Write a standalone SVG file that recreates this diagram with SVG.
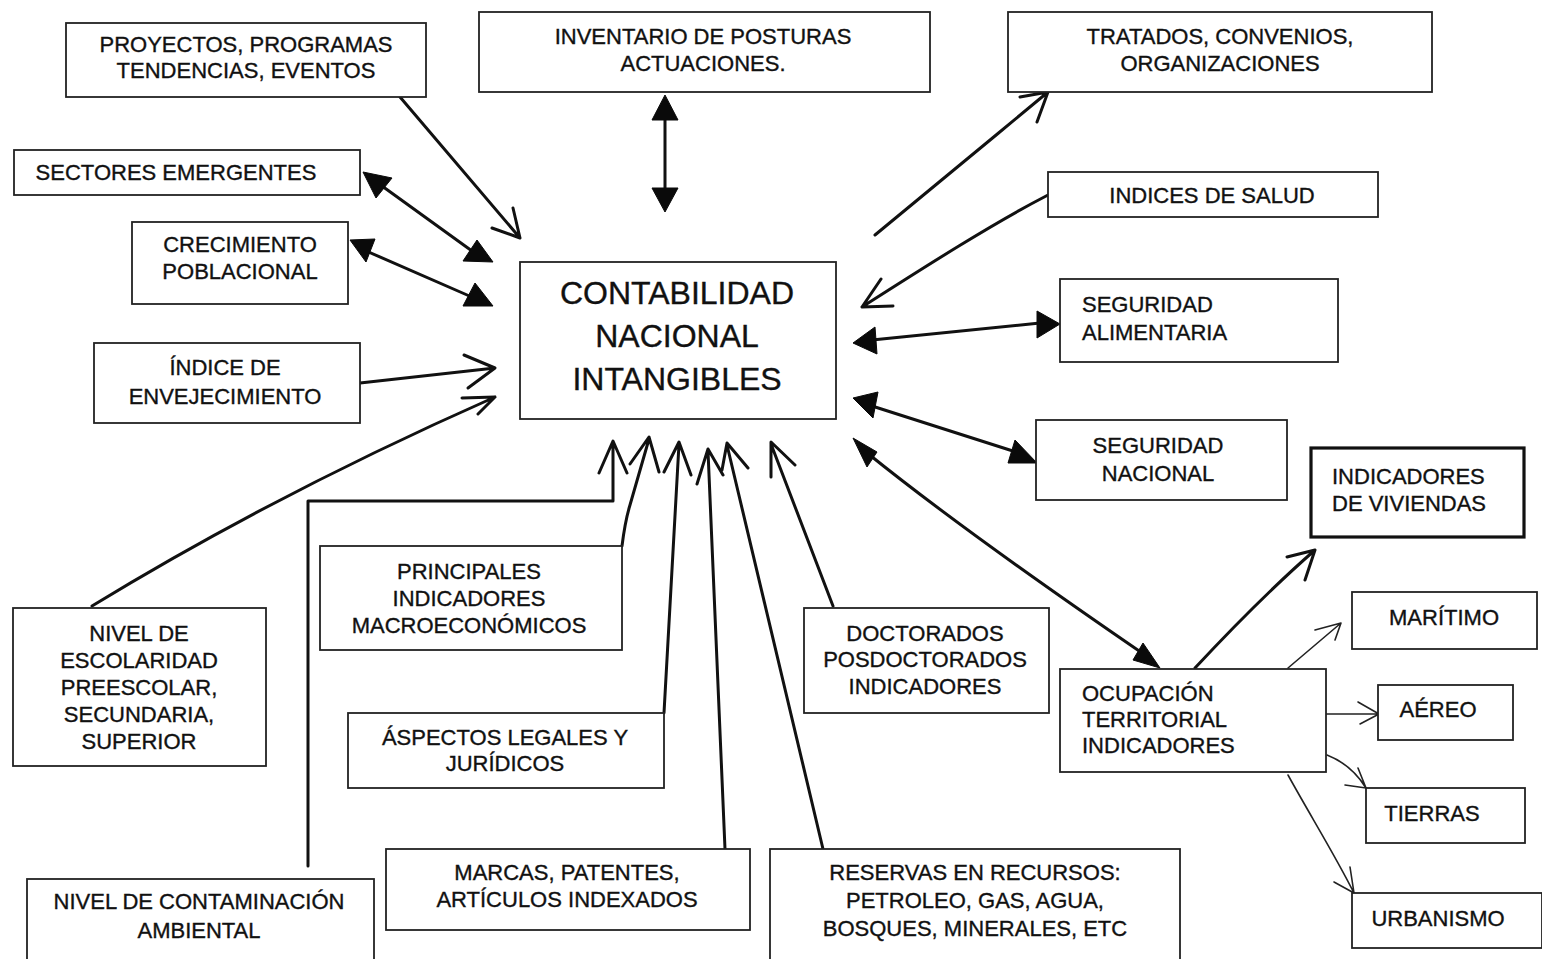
<svg xmlns="http://www.w3.org/2000/svg" width="1542" height="959" viewBox="0 0 1542 959">
<style>
.box{fill:#fff;stroke:#222;stroke-width:1.8}
.thick{stroke-width:3.2;stroke:#111}
.t{font-family:"Liberation Sans",Arial,sans-serif;font-size:22px;fill:#111;stroke:#111;stroke-width:0.35}
.c{text-anchor:middle}
.big{font-size:32px}
.ln{fill:none;stroke:#111;stroke-width:3;stroke-linecap:round;stroke-linejoin:round}
.thin{fill:none;stroke:#222;stroke-width:1.6;stroke-linecap:round;stroke-linejoin:round}
.tri{fill:#0a0a0a;stroke:#0a0a0a;stroke-width:1;stroke-linejoin:round}
</style>
<rect width="1542" height="959" fill="#fff"/>

<g id="connectors">
  <path class="ln" d="M400,97 L520,238 M492,228 L520,238 L513,208"/>
  <path class="ln" d="M382,186 L472,251"/>
  <path class="tri" d="M363,172 L392,178 L376,198 Z"/>
  <path class="tri" d="M493,262 L477,240 L463,261 Z"/>
  <path class="ln" d="M364,250 L474,298"/>
  <path class="tri" d="M350,240 L375,239 L366,262 Z"/>
  <path class="tri" d="M493,306 L475,283 L463,306 Z"/>
  <path class="ln" d="M360,383 L495,368 M464,355 L495,368 L468,388"/>
  <path class="ln" d="M92,606 C200,540 330,470 495,397 M462,398 L495,397 L478,414"/>
  <path class="ln" d="M665,115 L665,192"/>
  <path class="tri" d="M665,95 L652,120 L678,120 Z"/>
  <path class="tri" d="M665,212 L652,188 L678,188 Z"/>
  <path class="ln" d="M875,235 C930,190 990,140 1048,92 M1020,97 L1048,92 L1037,122"/>
  <path class="ln" d="M1048,195 C990,225 920,270 862,307 M881,279 L862,307 L893,306"/>
  <path class="ln" d="M872,340 L1040,323"/>
  <path class="tri" d="M853,343 L875,327 L877,354 Z"/>
  <path class="tri" d="M1060,324 L1037,311 L1037,338 Z"/>
  <path class="ln" d="M872,406 L1016,452"/>
  <path class="tri" d="M853,398 L878,392 L873,418 Z"/>
  <path class="tri" d="M1037,463 L1015,440 L1008,463 Z"/>
  <path class="ln" d="M866,452 C950,520 1050,590 1145,655"/>
  <path class="tri" d="M853,438 L877,452 L867,467 Z"/>
  <path class="tri" d="M1160,668 L1143,643 L1133,660 Z"/>
  <path class="ln" d="M1195,668 C1235,625 1275,585 1315,550 M1287,557 L1315,550 L1305,580"/>
  <path class="thin" d="M1288,668 L1341,623 M1315,630 L1341,623 L1335,640"/>
  <path class="thin" d="M1326,714 L1379,714 M1358,702 L1379,714 L1360,724"/>
  <path class="thin" d="M1327,755 C1345,762 1358,775 1366,788 M1345,785 L1366,788 L1358,768"/>
  <path class="thin" d="M1288,775 C1310,815 1335,855 1354,893 M1334,882 L1354,893 L1350,867"/>
  <path class="ln" d="M308,866 L308,501 L613,501 L613,443 M599,473 L613,441 L627,473"/>
  <path class="ln" d="M622,546 C624,530 626,518 630,505 L649,439 M630,464 L649,437 L659,472"/>
  <path class="ln" d="M664,713 L679,444 M664,472 L679,442 L691,475"/>
  <path class="ln" d="M725,849 L708,451 M697,484 L708,449 L723,475"/>
  <path class="ln" d="M823,849 L727,445 M722,470 L727,443 L748,468"/>
  <path class="ln" d="M833,606 L771,444 M771,477 L771,442 L795,465"/>
</g>

<g id="proyectos"><rect class="box" x="66" y="23" width="360" height="74"/>
<text class="t c" x="246" y="52">PROYECTOS, PROGRAMAS</text><text class="t c" x="246" y="78">TENDENCIAS, EVENTOS</text></g>

<g id="inventario"><rect class="box" x="479" y="12" width="451" height="80"/>
<text class="t c" x="703" y="44">INVENTARIO DE POSTURAS</text><text class="t c" x="703" y="71">ACTUACIONES.</text></g>

<g id="tratados"><rect class="box" x="1008" y="12" width="424" height="80"/>
<text class="t c" x="1220" y="44">TRATADOS, CONVENIOS,</text><text class="t c" x="1220" y="71">ORGANIZACIONES</text></g>

<g id="sectores"><rect class="box" x="14" y="150" width="346" height="45"/>
<text class="t c" x="176" y="180">SECTORES EMERGENTES</text></g>

<g id="crecimiento"><rect class="box" x="132" y="222" width="216" height="82"/>
<text class="t c" x="240" y="252">CRECIMIENTO</text><text class="t c" x="240" y="279">POBLACIONAL</text></g>

<g id="envejecimiento"><rect class="box" x="94" y="343" width="266" height="80"/>
<text class="t c" x="225" y="375">ÍNDICE DE</text><text class="t c" x="225" y="404">ENVEJECIMIENTO</text></g>

<g id="contabilidad"><rect class="box" x="520" y="262" width="316" height="157"/>
<text class="t c big" x="677" y="304">CONTABILIDAD</text><text class="t c big" x="677" y="347">NACIONAL</text><text class="t c big" x="677" y="390">INTANGIBLES</text></g>

<g id="salud"><rect class="box" x="1048" y="172" width="330" height="45"/>
<text class="t c" x="1212" y="203">INDICES DE SALUD</text></g>

<g id="alimentaria"><rect class="box" x="1060" y="279" width="278" height="83"/>
<text class="t" x="1082" y="312">SEGURIDAD</text><text class="t" x="1082" y="340">ALIMENTARIA</text></g>

<g id="nacional"><rect class="box" x="1036" y="420" width="251" height="80"/>
<text class="t c" x="1158" y="453">SEGURIDAD</text><text class="t c" x="1158" y="481">NACIONAL</text></g>

<g id="viviendas"><rect class="box thick" x="1311" y="448" width="213" height="89"/>
<text class="t" x="1332" y="484">INDICADORES</text><text class="t" x="1332" y="511">DE VIVIENDAS</text></g>

<g id="maritimo"><rect class="box" x="1352" y="592" width="185" height="57"/>
<text class="t c" x="1444" y="625">MARÍTIMO</text></g>

<g id="aereo"><rect class="box" x="1378" y="685" width="135" height="55"/>
<text class="t c" x="1438" y="717">AÉREO</text></g>

<g id="tierras"><rect class="box" x="1366" y="788" width="159" height="55"/>
<text class="t c" x="1432" y="821">TIERRAS</text></g>

<g id="urbanismo"><rect class="box" x="1352" y="893" width="190" height="55"/>
<text class="t c" x="1438" y="926">URBANISMO</text></g>

<g id="ocupacion"><rect class="box" x="1060" y="669" width="266" height="103"/>
<text class="t" x="1082" y="701">OCUPACIÓN</text><text class="t" x="1082" y="727">TERRITORIAL</text><text class="t" x="1082" y="753">INDICADORES</text></g>

<g id="doctorados"><rect class="box" x="804" y="608" width="245" height="105"/>
<text class="t c" x="925" y="641">DOCTORADOS</text><text class="t c" x="925" y="667">POSDOCTORADOS</text><text class="t c" x="925" y="694">INDICADORES</text></g>

<g id="reservas"><rect class="box" x="770" y="849" width="410" height="115"/>
<text class="t c" x="975" y="880">RESERVAS EN RECURSOS:</text><text class="t c" x="975" y="908">PETROLEO, GAS, AGUA,</text><text class="t c" x="975" y="936">BOSQUES, MINERALES, ETC</text></g>

<g id="marcas"><rect class="box" x="386" y="849" width="364" height="81"/>
<text class="t c" x="567" y="880">MARCAS, PATENTES,</text><text class="t c" x="567" y="907">ARTÍCULOS INDEXADOS</text></g>

<g id="contaminacion"><rect class="box" x="27" y="879" width="347" height="85"/>
<text class="t c" x="199" y="909">NIVEL DE CONTAMINACIÓN</text><text class="t c" x="199" y="938">AMBIENTAL</text></g>

<g id="aspectos"><rect class="box" x="348" y="713" width="316" height="75"/>
<text class="t c" x="505" y="745">ÁSPECTOS LEGALES Y</text><text class="t c" x="505" y="771">JURÍDICOS</text></g>

<g id="principales"><rect class="box" x="320" y="546" width="302" height="104"/>
<text class="t c" x="469" y="579">PRINCIPALES</text><text class="t c" x="469" y="606">INDICADORES</text><text class="t c" x="469" y="633">MACROECONÓMICOS</text></g>

<g id="escolaridad"><rect class="box" x="13" y="608" width="253" height="158"/>
<text class="t c" x="139" y="641">NIVEL DE</text><text class="t c" x="139" y="668">ESCOLARIDAD</text><text class="t c" x="139" y="695">PREESCOLAR,</text><text class="t c" x="139" y="722">SECUNDARIA,</text><text class="t c" x="139" y="749">SUPERIOR</text></g>
</svg>
